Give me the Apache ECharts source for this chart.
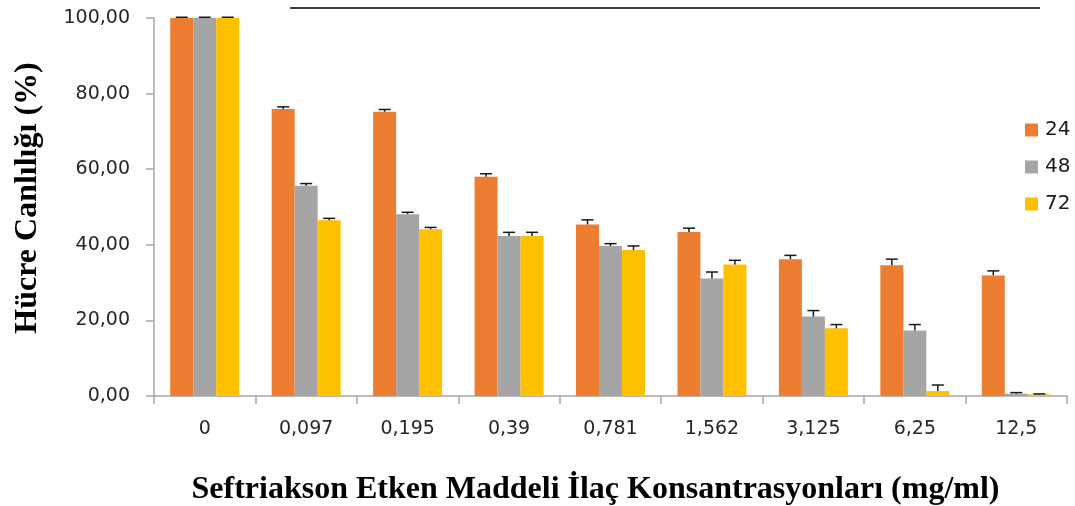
<!DOCTYPE html>
<html><head><meta charset="utf-8">
<script src="https://cdn.jsdelivr.net/npm/echarts@6/dist/echarts.min.js"></script>
<style>html,body{margin:0;padding:0;background:#fff}#c{width:1075px;height:506px}</style>
</head><body><div id="c"></div>
<script>
var categories = ['0','0,097','0,195','0,39','0,781','1,562','3,125','6,25','12,5'];
var seriesNames = ['24','48','72'];
var v24 = [100, 75.9, 75.2, 58.0, 45.4, 43.4, 36.2, 34.6, 31.9];
var v48 = [100, 55.6, 48.1, 42.3, 39.7, 31.1, 21.0, 17.3, 0.6];
var v72 = [100, 46.5, 44.1, 42.3, 38.6, 34.8, 17.9, 1.3, 0.45];
var e24 = [0.2, 0.6, 0.6, 0.8, 1.2, 1.0, 1.0, 1.6, 1.2];
var e48 = [0.2, 0.6, 0.5, 1.0, 0.6, 1.7, 1.6, 1.6, 0.3];
var e72 = [0.2, 0.5, 0.5, 1.0, 1.1, 1.1, 1.0, 1.6, 0.1];
var yTicks = [0, 20, 40, 60, 80, 100];
var colors = ['#ED7D31', '#A5A5A5', '#FFC000'];

var vals = [v24, v48, v72];
var errs = [e24, e48, e72];
var catGap = 0.32;

function errSeries(k) {
  var data = categories.map(function (c, i) { return [i, vals[k][i], errs[k][i]]; });
  return {
    type: 'custom', name: seriesNames[k] + '_err', z: 5, silent: true,
    data: data,
    encode: { x: 0, y: 1 },
    renderItem: function (params, api) {
      var i = api.value(0), v = api.value(1), e = api.value(2);
      var band = api.size([1, 0])[0];
      var bw = band * (1 - catGap) / 3;
      var base = api.coord([i, v]);
      var top = api.coord([i, v + e]);
      var x = base[0] + (k - 1) * bw;
      var cap = 6;
      var st = { stroke: '#1a1a1a', lineWidth: 1.5 };
      return { type: 'group', children: [
        { type: 'line', shape: { x1: x, y1: base[1], x2: x, y2: top[1] }, style: st },
        { type: 'line', shape: { x1: x - cap, y1: top[1], x2: x + cap, y2: top[1] }, style: st }
      ]};
    }
  };
}

var series = [];
for (var k = 0; k < 3; k++) {
  series.push({
    type: 'bar', name: seriesNames[k], data: vals[k],
    itemStyle: { color: colors[k] },
    barGap: '0%', barCategoryGap: (catGap * 100) + '%'
  });
}
for (var k2 = 0; k2 < 3; k2++) series.push(errSeries(k2));

var chart = echarts.init(document.getElementById('c'), null, { renderer: 'canvas' });
chart.setOption({
  animation: false,
  backgroundColor: '#fff',
  grid: { left: 154, right: 8, top: 18, bottom: 110, containLabel: false, outerBoundsMode: 'none' },
  legend: {
    data: seriesNames, orient: 'vertical', left: 1020, top: 115,
    itemWidth: 13, itemHeight: 13, itemGap: 17, icon: 'rect',
    textStyle: { fontFamily: 'DejaVu Sans', fontSize: 20, color: '#1a1a1a', padding: [0, 0, 0, 2] }
  },
  xAxis: {
    type: 'category', data: categories,
    axisLine: { lineStyle: { color: '#a6a6a6', width: 1.5 } },
    axisTick: { show: true, length: 8, lineStyle: { color: '#a6a6a6', width: 1.5 } },
    axisLabel: { fontFamily: 'DejaVu Sans', fontSize: 19, color: '#262626', margin: 24 },
    name: 'Seftriakson Etken Maddeli İlaç Konsantrasyonları (mg/ml)',
    nameLocation: 'middle', nameGap: 78,
    nameTextStyle: { fontFamily: 'Liberation Serif', fontWeight: 'bold', fontSize: 32, color: '#000', padding: [0, 30, 0, 0] }
  },
  yAxis: {
    type: 'value', min: 0, max: 100, interval: 20,
    axisLine: { show: true, lineStyle: { color: '#a6a6a6', width: 1.5 } },
    axisTick: { show: true, length: 8, inside: false, lineStyle: { color: '#a6a6a6', width: 1.5 } },
    splitLine: { show: false },
    axisLabel: {
      fontFamily: 'DejaVu Sans', fontSize: 19, color: '#262626', margin: 24,
      formatter: function (v) { return yTicks.indexOf(v) >= 0 ? v.toFixed(2).replace('.', ',') : ''; }
    },
    name: 'Hücre Canlılığı (%)', nameLocation: 'middle', nameGap: 110,
    nameTextStyle: { fontFamily: 'Liberation Serif', fontWeight: 'bold', fontSize: 32, color: '#000', padding: [0, 0, 0, 18] }
  },
  graphic: [{ type: 'line', shape: { x1: 290, y1: 8, x2: 1040, y2: 8 }, style: { stroke: '#000', lineWidth: 1.5 } }],
  series: series
});
</script></body></html>
